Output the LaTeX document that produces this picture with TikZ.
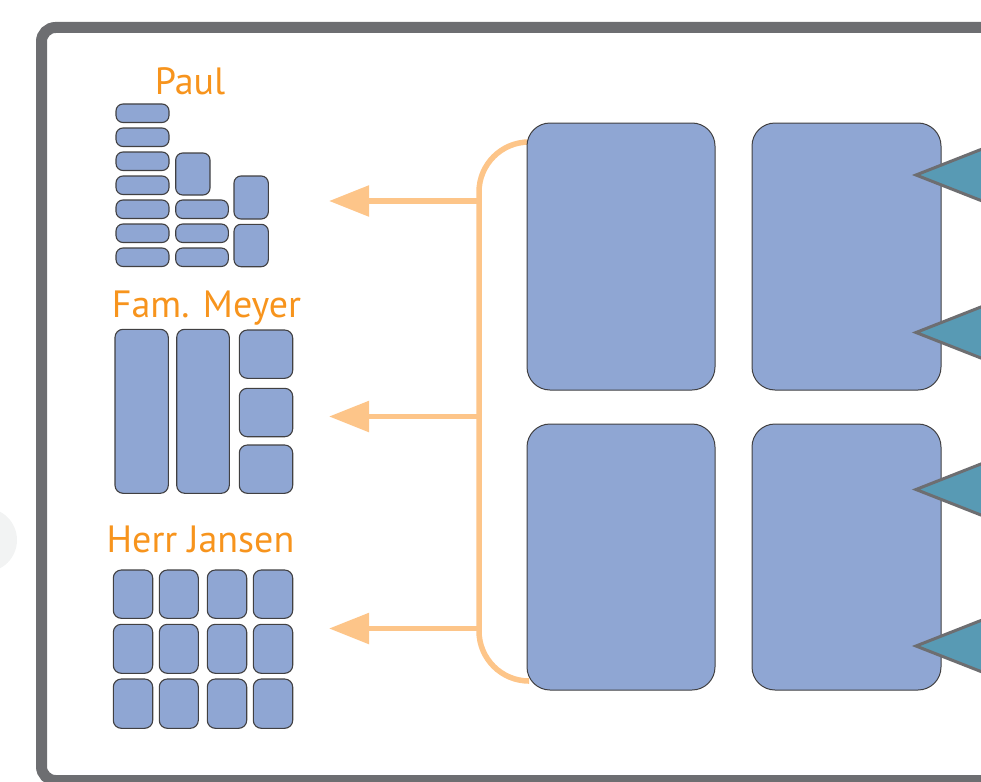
\documentclass[tikz,border=0pt]{standalone}
\usepackage{fontspec}
\setmainfont{PT Sans}
\usetikzlibrary{arrows.meta}
\definecolor{framegray}{RGB}{109,110,113}
\definecolor{boxfill}{RGB}{143,166,211}
\definecolor{boxline}{RGB}{65,64,66}
\definecolor{labelorange}{RGB}{247,148,29}
\definecolor{arroworange}{RGB}{253,197,137}
\definecolor{tealfill}{RGB}{88,154,180}
\definecolor{ghostgray}{RGB}{242,243,243}
\begin{document}
\begin{tikzpicture}[x=1pt,y=-1pt,
  iconbox/.style={fill=boxfill,draw=boxline,line width=1.1pt,rounded corners=#1},
  iconbox/.default=7pt,
  bigbox/.style={fill=boxfill,draw=boxline,line width=1pt,rounded corners=23pt},
  pointer/.style={fill=tealfill,draw=framegray,line width=3pt,line join=miter},
  bracket/.style={draw=arroworange,line width=5.5pt,rounded corners=50pt},
  feed/.style={draw=arroworange,line width=5.5pt,-{Triangle[length=40pt,width=30pt]}},
  who/.style={text=labelorange,font=\fontsize{38}{40}\selectfont,anchor=base,inner sep=0pt}]
\useasboundingbox (0,0) rectangle (981,781);
\clip (0,0) rectangle (981,781);
% faint circle at the left edge
\fill[ghostgray] (-15,540) circle (32pt);
% outer frame
\draw[framegray,line width=11pt,rounded corners=14pt] (41.5,27.5) rectangle (1100,780.5);

% labels
\node[who] (paul) at (190,95) {Paul};
\node[who] (meyer) at (206.5,317) {Fam. Meyer};
\node[who] (jansen) at (200.5,552) {Herr Jansen};

% Paul icon
\foreach \t in {104,128,152,176,200,224,248}
  \draw[iconbox] (116,\t) rectangle (169,\t+18.5);
\draw[iconbox] (175.7,153) rectangle (210,195);
\foreach \t in {200,224,248}
  \draw[iconbox] (175.7,\t) rectangle (228.3,\t+18.5);
\draw[iconbox] (234,176) rectangle (268.3,219);
\draw[iconbox] (234,224.3) rectangle (268.3,266.7);

% Fam. Meyer icon
\draw[iconbox=8pt] (115,329.3) rectangle (168.3,493.3);
\draw[iconbox=8pt] (176.7,329.3) rectangle (229.3,493.3);
\draw[iconbox=8pt] (239.3,330) rectangle (292.7,378.3);
\draw[iconbox=8pt] (239.3,388.3) rectangle (292.7,436.7);
\draw[iconbox=8pt] (239.3,445) rectangle (292.7,493.3);

% Herr Jansen icon
\foreach \xa/\xb in {113.3/152.7,159.3/198.3,207.3/246.7,253.3/292.7}
  \foreach \ya/\yb in {570/618.3,624.3/673.3,679/728.3}
    \draw[iconbox=8pt] (\xa,\ya) rectangle (\xb,\yb);

% bracket and arrows
\coordinate (btop) at (528,142);
\coordinate (bbot) at (528,681);
\draw[bracket] (btop) -- (479,142) -- (479,681) -- (bbot);
\coordinate (s1) at (479,201);   \coordinate (e1) at (329,201);
\coordinate (s2) at (479,416.5); \coordinate (e2) at (329,416.5);
\coordinate (s3) at (479,628.5); \coordinate (e3) at (329,628.5);
\draw[feed] (s1) -- (e1);
\draw[feed] (s2) -- (e2);
\draw[feed] (s3) -- (e3);

% big boxes
\draw[bigbox] (527,123) rectangle (715,390);
\draw[bigbox] (752,123) rectangle (941,390);
\draw[bigbox] (527,424) rectangle (715,690);
\draw[bigbox] (752,424) rectangle (941,690);

% pointers
\foreach \y in {175,332.5,489.5,646}
  \draw[pointer] (916,\y) -- (1000,\y-33) -- (1000,\y+33) -- cycle;
\end{tikzpicture}
\end{document}
